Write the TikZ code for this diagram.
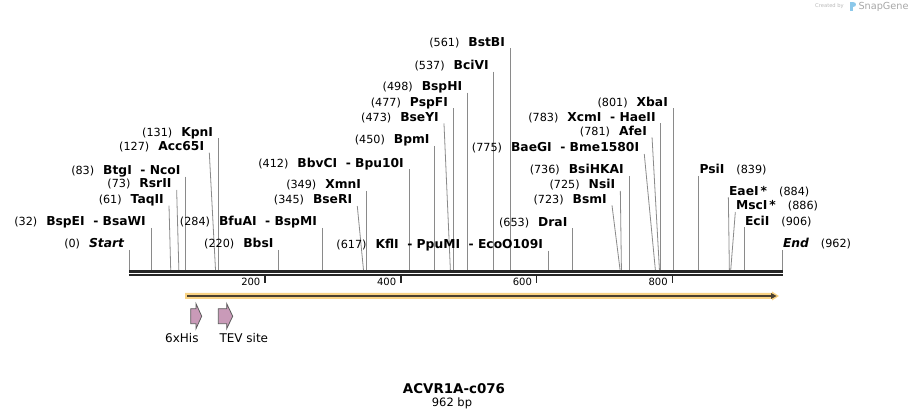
\documentclass[tikz,border=0pt]{standalone}
\usepackage{fontspec}
\setmainfont{DejaVu Sans}
\definecolor{seqdark}{HTML}{262626}
\definecolor{sitegray}{HTML}{8A8A8A}
\definecolor{featyellow}{HTML}{F9D384}
\definecolor{featbrown}{HTML}{4B4030}
\definecolor{tagpink}{HTML}{C99AB8}
\definecolor{tagedge}{HTML}{5C5C5C}
\definecolor{logoblue}{HTML}{8CC8EA}

\newcommand{\bpnum}[1]{{\fontsize{11.2}{13}\selectfont(#1)}}
\newcommand{\enzname}[1]{{\fontsize{12.3}{14}\selectfont\bfseries #1}}

\tikzset{
    site label/.style={inner xsep=5pt, inner ysep=0.5pt, text depth=1.5pt},
    site line/.style={draw=sitegray, line width=0.8pt},
    tick/.style={draw=seqdark, line width=1.5pt},
    tag/.style={fill=tagpink, draw=tagedge, line width=0.8pt, line join=miter}
}

\begin{document}
\begin{tikzpicture}[x=1pt, y=-1pt]

\useasboundingbox (0,0) rectangle (912,419);

% --- MACRO: CUT SITE WITH LABEL ON THE LEFT ---
% #1: node name
% #2: position (bp)
% #3: x shift of the line top
% #4: y of the line top
% #5: enzyme name(s)
\newcommand{\drawSiteLeft}[5]{
    \pgfmathsetmacro{\sx}{129.3 + #2*0.6788}
    \pgfmathsetmacro{\tx}{\sx + (#3)}
    \coordinate (cut-#1) at (\sx,270);
    \node[site label, anchor=south east] (#1) at (\tx,#4)
        {\bpnum{#2}\hspace{9pt}\enzname{#5}};
    \draw[site line] (#1.south east) -- (cut-#1);
}

% --- MACRO: CUT SITE WITH LABEL ON THE RIGHT ---
\newcommand{\drawSiteRight}[5]{
    \pgfmathsetmacro{\sx}{129.3 + #2*0.6788}
    \pgfmathsetmacro{\tx}{\sx + (#3)}
    \coordinate (cut-#1) at (\sx,270);
    \node[site label, inner xsep=0.5pt, anchor=south west] (#1) at (\tx,#4)
        {\enzname{#5}\hspace{12pt}\bpnum{#2}};
    \draw[site line] (#1.south west) -- (cut-#1);
}

% --- MACRO: FEATURE ARROW ---
% #1: left x, #2: x of the head, #3: x of the tip
\newcommand{\drawTag}[3]{
    \draw[tag] (#1,308.7) -- (#2,308.7) -- (#2,303.7) -- (#3,316.2)
        -- (#2,328.7) -- (#2,323.7) -- (#1,323.7) -- cycle;
}

% --- SITES ---
\drawSiteLeft{start}{0}{0}{250}{\itshape Start}
\drawSiteLeft{bspei}{32}{0}{228}{BspEI\ \ - BsaWI}
\drawSiteLeft{taqii}{61}{-1.7}{205.7}{TaqII}
\drawSiteLeft{rsrii}{73}{-2.2}{190}{RsrII}
\drawSiteLeft{btgi}{83}{0}{176.7}{BtgI\ \ - NcoI}
\drawSiteLeft{acci}{127}{-6.2}{152.7}{Acc65I}
\drawSiteLeft{kpni}{131}{0}{138.3}{KpnI}
\drawSiteLeft{bbsi}{220}{0}{250}{BbsI}
\drawSiteLeft{bfuai}{284}{0}{228}{BfuAI\ \ - BspMI}
\drawSiteLeft{bseri}{345}{-6.2}{206}{BseRI}
\drawSiteLeft{xmni}{349}{0}{191}{XmnI}
\drawSiteLeft{bbvci}{412}{0}{169.3}{BbvCI\ \ - Bpu10I}
\drawSiteLeft{bpmi}{450}{0}{146}{BpmI}
\drawSiteLeft{bseyi}{473}{-6.4}{123.3}{BseYI}
\drawSiteLeft{pspfi}{477}{0}{108.3}{PspFI}
\drawSiteLeft{bsphi}{498}{0}{92.7}{BspHI}
\drawSiteLeft{bcivi}{537}{0}{71.7}{BciVI}
\drawSiteLeft{bstbi}{561}{0}{48.3}{BstBI}
\drawSiteLeft{kfli}{617}{0}{250.7}{KflI\ \ - PpuMI\ \ - EcoO109I}
\drawSiteLeft{drai}{653}{0}{228.3}{DraI}
\drawSiteLeft{bsmi}{723}{-8.1}{205.3}{BsmI}
\drawSiteLeft{nsii}{725}{-1.1}{191}{NsiI}
\drawSiteLeft{bsihkai}{736}{0}{176}{BsiHKAI}
\drawSiteLeft{baegi}{775}{-11.1}{154}{BaeGI\ \ - Bme1580I}
\drawSiteLeft{afei}{781}{-7.4}{137.3}{AfeI}
\drawSiteLeft{xcmi}{783}{0}{123.3}{XcmI\ \ - HaeII}
\drawSiteLeft{xbai}{801}{0}{108.3}{XbaI}

\drawSiteRight{psii}{839}{0}{176}{PsiI}
\drawSiteRight{eaei}{884}{-1}{197.3}{EaeI\,*}
\drawSiteRight{msci}{886}{4.6}{212}{MscI\,*}
\drawSiteRight{ecii}{906}{0}{227.3}{EciI}
\drawSiteRight{end}{962}{0}{250}{\itshape End}

% --- SEQUENCE LINE ---
\draw[seqdark, line width=3.3pt] (129.3,271.4) -- (782.7,271.4);
\draw[seqdark, line width=2pt] (129.3,275.5) -- (782.7,275.5);

\foreach \t in {200,400,600,800} {
    \pgfmathsetmacro{\tx}{129.3 + \t*0.6788}
    \draw[tick] (\tx,275.5) -- (\tx,283.5);
    \node[anchor=base east, inner sep=0pt, font=\fontsize{10}{12}\selectfont]
        (tick-\t) at (\tx-4.5,286) {\t};
}

% --- FEATURES ---
\fill[featyellow] (185,293) -- (772,293) -- (772,291.5) -- (779,296)
    -- (772,300.5) -- (772,299) -- (185,299) -- cycle;
\draw[featbrown, line width=1.8pt] (187,296) -- (771,296);
\fill[featbrown] (771,293) -- (776.5,296) -- (771,299) -- cycle;

\drawTag{190.7}{196}{201.7}
\drawTag{218.3}{226.7}{232.7}

\node[anchor=base west, inner sep=0pt, font=\fontsize{12}{14}\selectfont]
    (his) at (165,342) {6xHis};
\node[anchor=base west, inner sep=0pt, font=\fontsize{12}{14}\selectfont]
    (tev) at (219.3,342) {TEV site};

% --- TITLE ---
\node[anchor=base, inner sep=0pt, font=\fontsize{13.4}{16}\selectfont\bfseries]
    (title) at (454,393.2) {ACVR1A-c076};
\node[anchor=base, inner sep=0pt, font=\fontsize{11.5}{14}\selectfont]
    (length) at (452,406.5) {962 bp};

% --- LOGO ---
\node[anchor=west, inner sep=0pt, text=gray!55, font=\fontsize{5.2}{6}\selectfont]
    (created) at (815,6.5) {Created by};
\fill[logoblue] (850,2) rectangle (852.5,11);
\fill[logoblue] (852.5,2) .. controls (856.5,2) and (856.5,7.5) .. (852.5,7.5) -- cycle;
\node[anchor=west, inner sep=0pt, text=gray!70, font=\fontsize{9.7}{11}\selectfont]
    (snapgene) at (858.3,7) {SnapGene};

\end{tikzpicture}
\end{document}
